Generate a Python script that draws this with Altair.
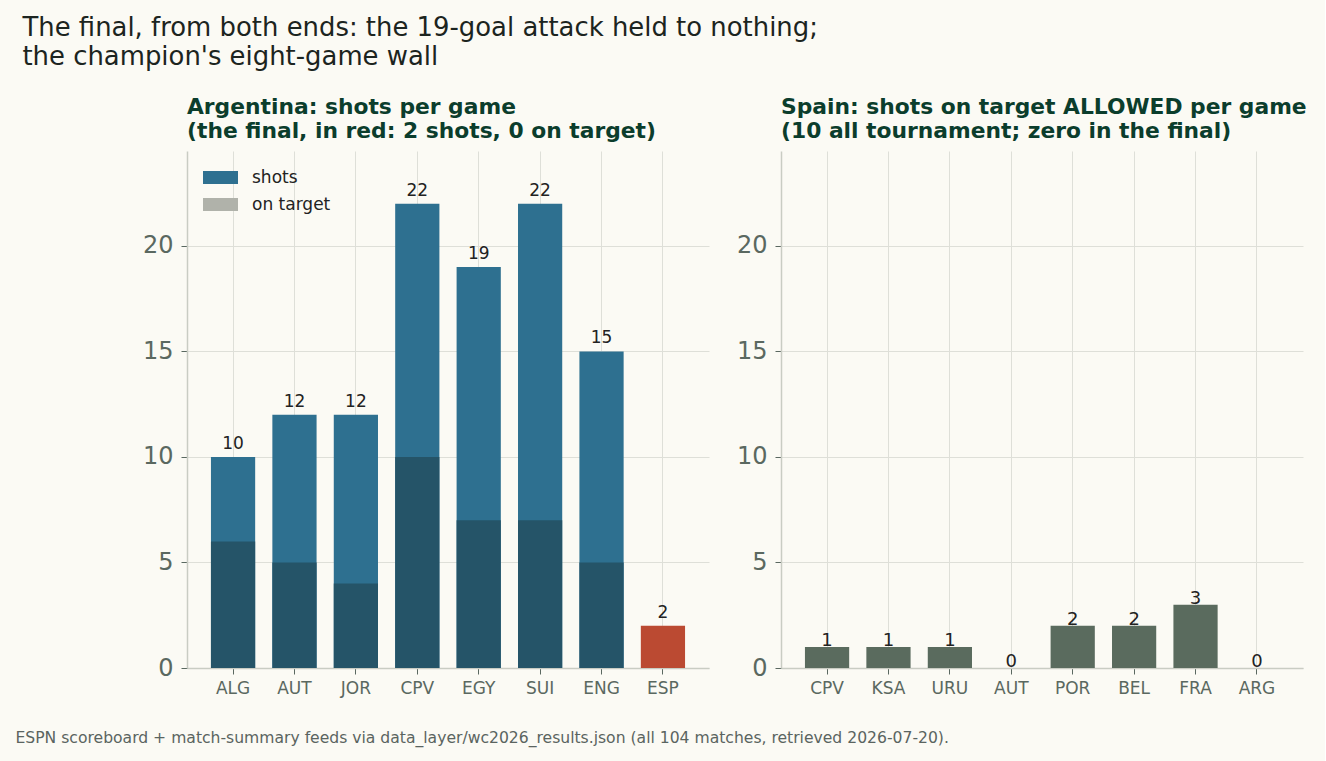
import altair as alt
import pandas as pd

# Argentina's eight matches: opponent, total shots, shots on target
arg_opponents = ["ALG", "AUT", "JOR", "CPV", "EGY", "SUI", "ENG", "ESP"]
arg_shots = [10, 12, 12, 22, 19, 22, 15, 2]
arg_on_target = [6, 5, 4, 10, 7, 7, 5, 0]

# Spain's eight matches: opponent, shots on target conceded
esp_opponents = ["CPV", "KSA", "URU", "AUT", "POR", "BEL", "FRA", "ARG"]
esp_sot_allowed = [1, 1, 1, 0, 2, 2, 3, 0]

y_ticks = [0, 5, 10, 15, 20]

FONT = "DejaVu Sans"
BG = "#fbfaf4"
BLUE = "#2e7090"
DARK_BLUE = "#255468"
LEGEND_GREY = "#b0b2aa"
RED = "#bb4a32"
SPAIN_GREEN = "#5a6b5e"
TITLE_GREEN = "#0b3d2c"
TICK_GREY = "#5a6860"

arg_df = pd.DataFrame({
    "opp": arg_opponents,
    "shots": arg_shots,
    "on_target": arg_on_target,
    "series": ["shots"] * len(arg_opponents),
    "final": [o == "ESP" for o in arg_opponents],
})
esp_df = pd.DataFrame({"opp": esp_opponents, "allowed": esp_sot_allowed})

W, H = 522, 517
y_scale = alt.Scale(domain=[0, 24.5], nice=False)
band = dict(paddingInner=0.28, paddingOuter=0.39)

x_axis = alt.Axis(title=None, labelAngle=0, labelFontSize=17, labelColor=TICK_GREY,
                  labelFont=FONT, tickColor=TICK_GREY, tickSize=6, labelPadding=6,
                  domainColor="#c9ccc3", domainWidth=1.5, grid=True,
                  gridColor="#dedfd8", gridWidth=1)
y_axis = alt.Axis(title=None, values=y_ticks, labelFontSize=24, labelColor=TICK_GREY,
                  labelFont=FONT, tickColor=TICK_GREY, tickSize=6, labelPadding=8,
                  domainColor="#c9ccc3", domainWidth=1.5, grid=True,
                  gridColor="#dedfd8", gridWidth=1)

# --- Argentina: shots and shots on target ---
arg_base = alt.Chart(arg_df).encode(
    x=alt.X("opp:N", sort=arg_opponents, scale=alt.Scale(**band), axis=x_axis)
)
shots_bars = arg_base.mark_bar().encode(
    y=alt.Y("shots:Q", scale=y_scale, axis=y_axis),
    color=alt.condition(
        "datum.final",
        alt.value(RED),
        alt.Color(
            "series:N",
            scale=alt.Scale(domain=["shots", "on target"], range=[BLUE, LEGEND_GREY]),
            legend=alt.Legend(
                title=None, orient="none", legendX=16, legendY=9,
                symbolType="M-1,-0.371H1V0.371H-1Z", symbolSize=1225,
                symbolStrokeWidth=0, symbolOpacity=1,
                labelFontSize=17, labelFont=FONT, labelColor="#222222",
                labelOffset=14, rowPadding=1, padding=0,
            ),
        ),
    ),
)
target_bars = arg_base.mark_bar(color=DARK_BLUE).encode(y="on_target:Q")
shot_labels = arg_base.mark_text(
    baseline="alphabetic", dy=-8, fontSize=17, font=FONT, color="#222222"
).encode(y="shots:Q", text="shots:Q")

arg_chart = alt.layer(shots_bars, target_bars, shot_labels).properties(
    width=W, height=H,
    title=alt.TitleParams(
        text=["Argentina: shots per game", "(the final, in red: 2 shots, 0 on target)"],
        anchor="start", frame="group", fontSize=21.8, fontWeight="bold", font=FONT,
        color=TITLE_GREEN, lineHeight=24, offset=8,
    ),
)

# --- Spain: shots on target allowed ---
esp_base = alt.Chart(esp_df).encode(
    x=alt.X("opp:N", sort=esp_opponents, scale=alt.Scale(**band), axis=x_axis)
)
allowed_bars = esp_base.mark_bar(color=SPAIN_GREEN).encode(
    y=alt.Y("allowed:Q", scale=y_scale, axis=y_axis)
)
allowed_labels = esp_base.mark_text(
    baseline="alphabetic", dy=-1, fontSize=18, font=FONT, color="#222222"
).encode(y="allowed:Q", text="allowed:Q")

esp_chart = alt.layer(allowed_bars, allowed_labels).properties(
    width=W, height=H,
    title=alt.TitleParams(
        text=["Spain: shots on target ALLOWED per game", "(10 all tournament; zero in the final)"],
        anchor="start", frame="group", fontSize=21.8, fontWeight="bold", font=FONT,
        color=TITLE_GREEN, lineHeight=24, offset=8,
    ),
)

panels = alt.hconcat(arg_chart, esp_chart, spacing=27).properties(
    title=alt.TitleParams(
        text=["The final, from both ends: the 19-goal attack held to nothing;",
              "the champion's eight-game wall"],
        anchor="start", fontSize=25.9, fontWeight="normal", font=FONT,
        color="#1c2420", lineHeight=29, offset=26, dx=-120,
    )
)

chart = alt.vconcat(panels).properties(
    title=alt.TitleParams(
        text="ESPN scoreboard + match-summary feeds via data_layer/wc2026_results.json "
             "(all 104 matches, retrieved 2026-07-20).",
        orient="bottom", anchor="start", fontSize=15.6, fontWeight="normal", font=FONT,
        color="#5a6460", offset=35, dx=-7,
    ),
    padding={"left": 15, "top": 15, "right": 18, "bottom": 14},
).configure(background=BG).configure_view(strokeWidth=0)

chart.save("out.html", embed_options={"renderer": "svg", "actions": False})
